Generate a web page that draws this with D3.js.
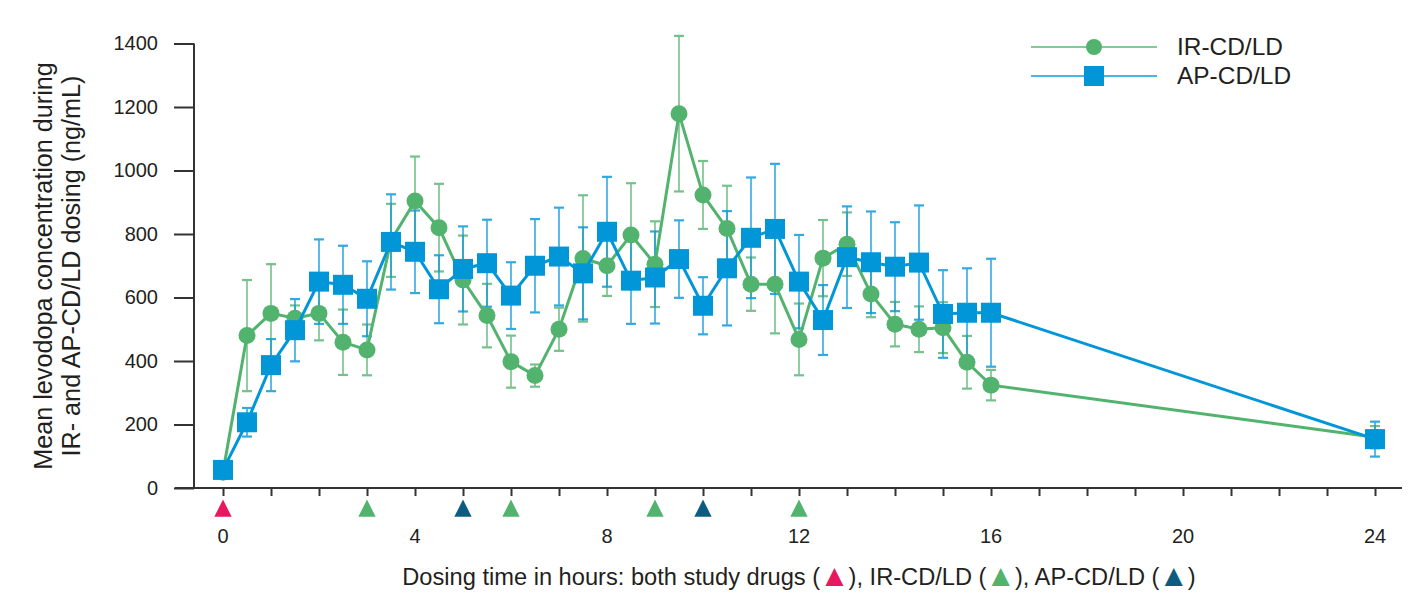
<!DOCTYPE html>
<html>
<head>
<meta charset="utf-8">
<script src="https://cdnjs.cloudflare.com/ajax/libs/d3/7.8.5/d3.min.js"></script>
<style>
  body { margin: 0; background: #fff; }
  svg text { font-family: "Liberation Sans", Arial, Helvetica, sans-serif; fill: #231f20; }
</style>
</head>
<body>
<svg id="chart" width="1425" height="594"></svg>
<script>
// Sampling times (hours)
const hours = [0, 0.5, 1, 1.5, 2, 2.5, 3, 3.5, 4, 4.5, 5, 5.5, 6, 6.5, 7, 7.5, 8,
    8.5, 9, 9.5, 10, 10.5, 11, 11.5, 12, 12.5, 13, 13.5, 14, 14.5, 15, 15.5, 16, 24];

// IR-CD/LD mean and error
const irMean = [50, 480, 550, 535, 550, 459, 435, 780, 904, 820, 655, 543, 398, 354, 500, 723, 700,
    797, 705, 1179, 923, 817, 642, 642, 468, 724, 768, 611, 516, 500, 505, 396, 324, 160];
const irErr = [10, 175, 155, 40, 85, 103, 80, 115, 140, 138, 140, 100, 82, 35, 68, 199, 95,
    163, 135, 245, 107, 135, 84, 155, 113, 120, 100, 73, 70, 72, 80, 83, 48, 35];

// AP-CD/LD mean and error
const apMean = [57, 207, 387, 497, 650, 640, 596, 775, 744, 626, 690, 708, 606, 700, 729, 676, 807,
    653, 663, 721, 574, 692, 788, 816, 650, 529, 727, 711, 697, 710, 548, 552, 552, 154];
const apErr = [10, 45, 82, 98, 133, 123, 118, 150, 130, 107, 134, 137, 105, 147, 154, 145, 173,
    136, 145, 122, 90, 180, 190, 205, 147, 110, 160, 160, 140, 180, 138, 140, 170, 55];

// Dosing markers
const doseBoth = [0];
const doseIR = [3, 6, 9, 12];
const doseAP = [5, 10];

const yTicks = [0, 200, 400, 600, 800, 1000, 1200, 1400];
const xLabels = [0, 4, 8, 12, 16, 20, 24];

const green = '#52b36e';
const blue = '#0096d8';
const pink = '#e8185e';
const teal = '#0b5c80';
const axisColor = '#333';

const svg = d3.select('#chart');

const x = d3.scaleLinear().domain([0, 24]).range([223, 1375]);
const y = d3.scaleLinear().domain([0, 1400]).range([488, 43.5]);
const yAxisX = 194;

// scale a text's font size so it spans the width seen in the reference
function fitText(sel, target) {
    const w = sel.node().getComputedTextLength();
    const s = +sel.attr('font-size');
    const ns = s * target / w;
    sel.attr('font-size', ns);
    return ns;
}

// x axis line + hourly ticks
svg.append('line')
    .attr('x1', x(-1)).attr('x2', 1402)
    .attr('y1', y(0)).attr('y2', y(0))
    .attr('stroke', axisColor).attr('stroke-width', 2);

const xAxis = d3.axisBottom(x)
    .tickValues(d3.range(0, 25, 1))
    .tickSize(8)
    .tickFormat(() => '');
const gx = svg.append('g').attr('transform', `translate(0,${y(0)})`).call(xAxis);
gx.select('.domain').remove();
gx.selectAll('.tick line').attr('stroke', axisColor).attr('stroke-width', 2);

svg.selectAll('.xlab')
    .data(xLabels)
    .enter().append('text')
    .attr('class', 'xlab')
    .attr('x', d => x(d))
    .attr('y', 543)
    .attr('text-anchor', 'middle')
    .attr('font-size', 20)
    .text(d => d);

// y axis
const yAxis = d3.axisLeft(y).tickValues(yTicks).tickFormat(d3.format('d'))
    .tickSize(20).tickPadding(16);
const gy = svg.append('g').attr('transform', `translate(${yAxisX},0)`).call(yAxis);
gy.select('.domain').attr('stroke', axisColor).attr('stroke-width', 2)
    .attr('d', `M0,${y(1400)}V${y(0)}`);
gy.selectAll('.tick line').attr('stroke', axisColor).attr('stroke-width', 2);
gy.selectAll('.tick text').attr('font-size', 20)
    .style('font-family', '"Liberation Sans", Arial, sans-serif').attr('fill', '#231f20');

// y label, two lines
const yl1 = svg.append('text')
    .attr('transform', 'translate(52,266) rotate(-90)')
    .attr('text-anchor', 'middle')
    .attr('font-size', 22)
    .text('Mean levodopa concentration during');
const ys = fitText(yl1, 408);
svg.append('text')
    .attr('transform', 'translate(80,266) rotate(-90)')
    .attr('text-anchor', 'middle')
    .attr('font-size', ys)
    .text('IR- and AP-CD/LD dosing (ng/mL)');

// dosing triangles
const tri = d3.symbol().type(d3.symbolTriangle).size(130);
function drawDoses(arr, color) {
    svg.selectAll(null)
        .data(arr)
        .enter().append('path')
        .attr('d', tri)
        .attr('transform', d => `translate(${x(d)},511) scale(1,1.15)`)
        .attr('fill', color);
}
drawDoses(doseBoth, pink);
drawDoses(doseIR, green);
drawDoses(doseAP, teal);

// x title with coloured triangles
const xt = svg.append('text')
    .attr('x', 799).attr('y', 585)
    .attr('text-anchor', 'middle')
    .attr('font-size', 22);
const titleParts = [
    ['Dosing time in hours: both study drugs (', null],
    ['\u25B2', pink],
    ['), IR-CD/LD (', null],
    ['\u25B2', green],
    ['), AP-CD/LD (', null],
    ['\u25B2', teal],
    [')', null]
];
titleParts.forEach(p => {
    const ts = xt.append('tspan').text(p[0]);
    if (p[1]) {
        ts.style('fill', p[1]).attr('font-size', '1.3em')
            .attr('dx', -1).attr('dy', 1);
    } else if (p[0][0] === ')') {
        ts.attr('dx', -1).attr('dy', -1);
    }
});
fitText(xt, 800);

// build series
const irData = hours.map((h, i) => ({ h: h, m: irMean[i], e: irErr[i] }));
const apData = hours.map((h, i) => ({ h: h, m: apMean[i], e: apErr[i] }));

function drawErrors(data, color) {
    const g = svg.append('g').attr('stroke', color).attr('stroke-width', 1.6).attr('opacity', 0.8);
    data.forEach(d => {
        const cx = x(d.h);
        g.append('line').attr('x1', cx).attr('x2', cx)
            .attr('y1', y(d.m - d.e)).attr('y2', y(d.m + d.e));
        [d.m - d.e, d.m + d.e].forEach(v => {
            g.append('line').attr('x1', cx - 5).attr('x2', cx + 5)
                .attr('y1', y(v)).attr('y2', y(v)).attr('stroke-width', 2.2);
        });
    });
}
drawErrors(irData, green);
drawErrors(apData, blue);

const line = d3.line().x(d => x(d.h)).y(d => y(d.m));

svg.append('path').datum(irData)
    .attr('d', line).attr('fill', 'none')
    .attr('stroke', green).attr('stroke-width', 3);
svg.selectAll('.irpt').data(irData).enter().append('circle')
    .attr('class', 'irpt')
    .attr('cx', d => x(d.h)).attr('cy', d => y(d.m))
    .attr('r', 8.5).attr('fill', green);

svg.append('path').datum(apData)
    .attr('d', line).attr('fill', 'none')
    .attr('stroke', blue).attr('stroke-width', 3);
svg.selectAll('.appt').data(apData).enter().append('rect')
    .attr('class', 'appt')
    .attr('x', d => x(d.h) - 10).attr('y', d => y(d.m) - 10)
    .attr('width', 20).attr('height', 20).attr('fill', blue);

// legend
const legend = [
    { name: 'IR-CD/LD', color: green, shape: 'circle', ly: 47 },
    { name: 'AP-CD/LD', color: blue, shape: 'square', ly: 76 }
];
let legendSize = 22;
legend.forEach((l, i) => {
    svg.append('line').attr('x1', 1031).attr('x2', 1157)
        .attr('y1', l.ly).attr('y2', l.ly)
        .attr('stroke', l.color).attr('stroke-width', 2).attr('opacity', 0.7);
    if (l.shape === 'circle') {
        svg.append('circle').attr('cx', 1094).attr('cy', l.ly).attr('r', 8).attr('fill', l.color);
    } else {
        svg.append('rect').attr('x', 1084).attr('y', l.ly - 10)
            .attr('width', 20).attr('height', 20).attr('fill', l.color);
    }
    const t = svg.append('text').attr('x', 1177).attr('y', l.ly + 8)
        .attr('font-size', legendSize).text(l.name);
    if (i === 0) legendSize = fitText(t, 106);
});
</script>
</body>
</html>
